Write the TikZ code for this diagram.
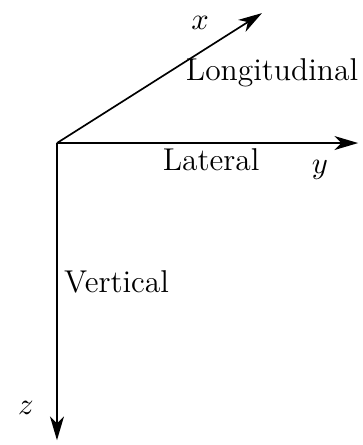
\documentclass[tikz,border=0pt]{standalone}
\usepackage{tikz}
\usetikzlibrary{arrows.meta}

\begin{document}
\begin{tikzpicture}[>={Stealth[length=8.5pt,width=5pt,inset=2.5pt]},line width=0.6pt,
  every node/.style={font=\fontsize{11.3}{14}\selectfont}]
\useasboundingbox(-0.717,-3.80)rectangle(3.85,1.80);
\coordinate(o)at(0,0);
\coordinate(xend)at(2.58,1.635);
\coordinate(yend)at(3.79,0);
\coordinate(zend)at(0,-3.74);
\draw[->](o)--(xend);
\draw[->](o)--(yend);
\draw[->](o)--(zend);
\node(xlab)at(1.80,1.51){$x$};
\node(ylab)at(3.31,-0.34){$y$};
\node(zlab)at(-0.39,-3.33){$z$};
\node[anchor=east,inner sep=0pt](lon)at(3.80,0.88){Longitudinal};
\node(lat)at(1.94,-0.21){Lateral};
\node(ver)at(0.75,-1.75){Vertical};
\end{tikzpicture}
\end{document}
